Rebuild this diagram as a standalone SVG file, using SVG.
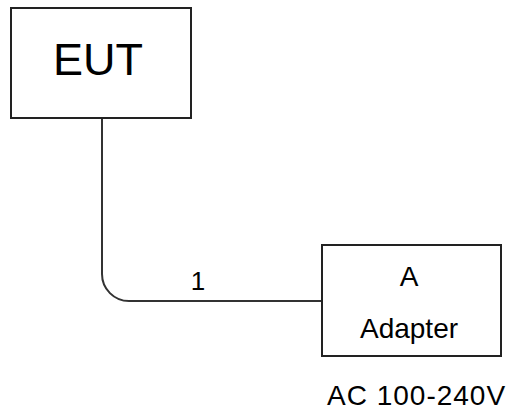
<svg xmlns="http://www.w3.org/2000/svg" width="511" height="414" viewBox="0 0 511 414">
<style>
.box{fill:#fff;stroke:#222;stroke-width:2}
.wire{fill:none;stroke:#333;stroke-width:2}
text{font-family:"Liberation Sans",Arial,sans-serif;fill:#000}
</style>
<rect width="511" height="414" fill="#fff"/>
<g id="connectors">
<path class="wire" d="M102,118 V274 A27,27 0 0 0 129,301 H321"/>
<text x="198" y="290" font-size="26" text-anchor="middle">1</text>
</g>
<g id="eut">
<rect class="box" x="11" y="8" width="180" height="110"/>
<text x="98" y="75" font-size="45" text-anchor="middle">EUT</text>
</g>
<g id="adapter">
<rect class="box" x="322" y="245" width="179" height="111"/>
<text x="409" y="286" font-size="28" text-anchor="middle">A</text>
<text x="409" y="338" font-size="28" text-anchor="middle">Adapter</text>
</g>
<text x="327" y="405" font-size="28" letter-spacing="1">AC 100-240V</text>
</svg>
